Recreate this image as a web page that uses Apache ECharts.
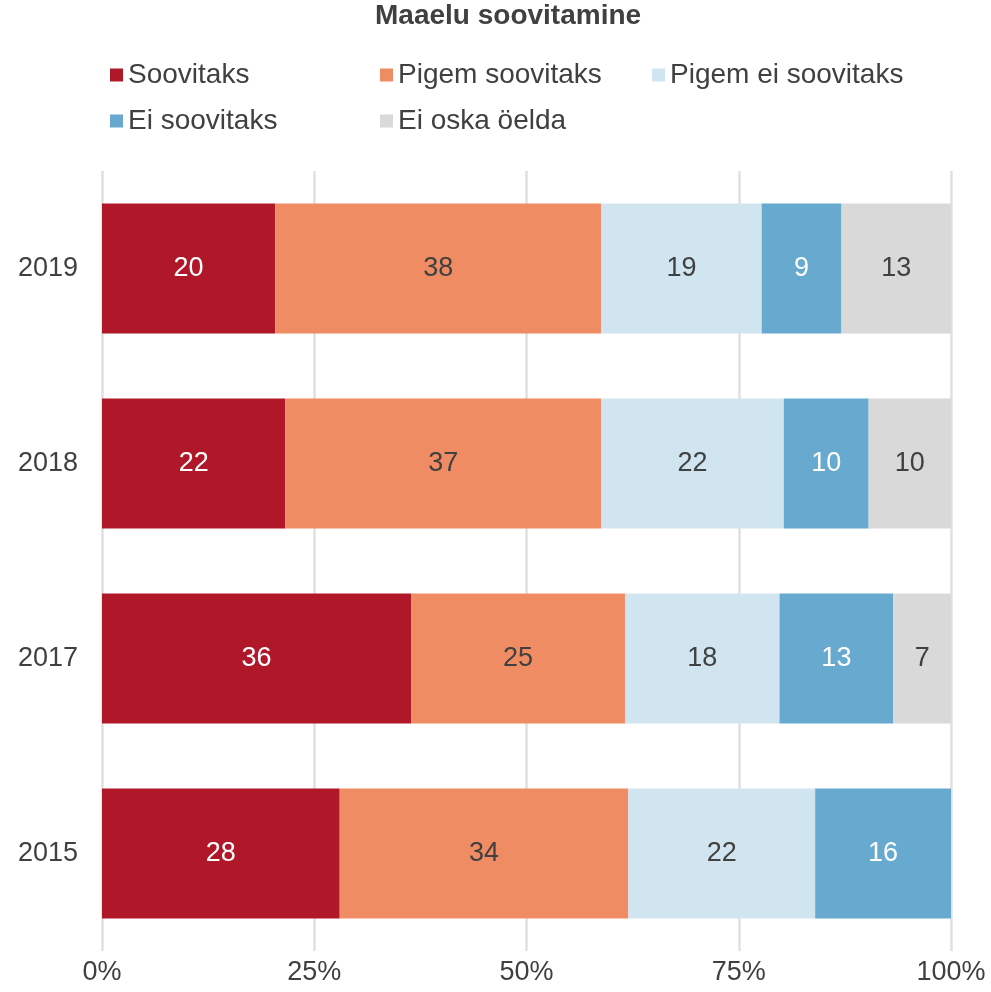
<!DOCTYPE html>
<html>
    <head>
        <meta charset="utf-8">
    </head>
    <body style="margin:0">
        <div id="main" style="width: 991px; height: 992px"></div>

        <script type="text/javascript" src="https://cdn.jsdelivr.net/npm/echarts@6/dist/echarts.min.js"></script>
        <script type="text/javascript">

            var chartDom = document.getElementById('main');
            var myChart = echarts.init(chartDom);
            var option;

            // data (shares, labels are rounded)
            const years = ['2019', '2018', '2017', '2015'];
            const names = ['Soovitaks', 'Pigem soovitaks', 'Pigem ei soovitaks', 'Ei soovitaks', 'Ei oska öelda'];
            const soovitaks = [20.4, 21.6, 36.4, 28.0];
            const pigemSoovitaks = [38.4, 37.2, 25.2, 34.0];
            const pigemEiSoovitaks = [18.9, 21.5, 18.2, 22.0];
            const eiSoovitaks = [9.4, 10.0, 13.4, 16.0];
            const eiOska = [12.9, 9.7, 6.8, 0];
            const xTicks = [0, 25, 50, 75, 100];

            const colors = ['#b0182a', '#ef8c63', '#d1e5f0', '#67a9cf', '#d9d9d9'];
            const labelColors = ['#ffffff', '#404040', '#404040', '#ffffff', '#404040'];
            const values = [soovitaks, pigemSoovitaks, pigemEiSoovitaks, eiSoovitaks, eiOska];
            const font = 'Liberation Sans, Arial, sans-serif';

            const series = [];
            for (let i = 0; i < names.length; i++) {
                series.push({
                    name: names[i],
                    type: 'bar',
                    stack: 'total',
                    barWidth: '66.7%',
                    data: values[i],
                    itemStyle: { color: colors[i] },
                    label: {
                        show: true,
                        position: 'inside',
                        color: labelColors[i],
                        fontSize: 27,
                        fontFamily: font,
                        formatter: function (p) {
                            return p.value > 0 ? Math.round(p.value) : '';
                        }
                    }
                });
            }

            // one legend per item so the columns line up like the original
            const legendPos = [[110, 61], [380, 61], [652, 61], [110, 107], [380, 107]];
            const legends = [];
            for (let i = 0; i < names.length; i++) {
                legends.push({
                    data: [names[i]],
                    left: legendPos[i][0],
                    top: legendPos[i][1],
                    padding: 0,
                    icon: 'rect',
                    itemWidth: 13,
                    itemHeight: 13,
                    selectedMode: false,
                    textStyle: { fontSize: 28, color: '#404040', fontFamily: font }
                });
            }

            option = {
                animation: false,
                backgroundColor: '#ffffff',
                title: {
                    text: 'Maaelu soovitamine',
                    left: 375,
                    top: 2,
                    padding: 0,
                    textStyle: { fontSize: 28, fontWeight: 'bold', color: '#404040', fontFamily: font }
                },
                legend: legends,
                grid: { left: 102, right: 40, top: 171, bottom: 41 },
                xAxis: {
                    type: 'value',
                    min: xTicks[0],
                    max: xTicks[xTicks.length - 1],
                    interval: 25,
                    axisLine: { show: false },
                    axisTick: { show: false },
                    splitLine: { lineStyle: { color: '#e0e0e0', width: 2.5 } },
                    axisLabel: {
                        formatter: '{value}%',
                        fontSize: 27,
                        color: '#404040',
                        fontFamily: font,
                        margin: 8
                    }
                },
                yAxis: {
                    type: 'category',
                    inverse: true,
                    data: years,
                    axisLine: { show: false },
                    axisTick: { show: false },
                    axisLabel: { fontSize: 27, color: '#404040', fontFamily: font, margin: 24 }
                },
                series: series
            };

            option && myChart.setOption(option);

        </script>
    </body>
</html>
